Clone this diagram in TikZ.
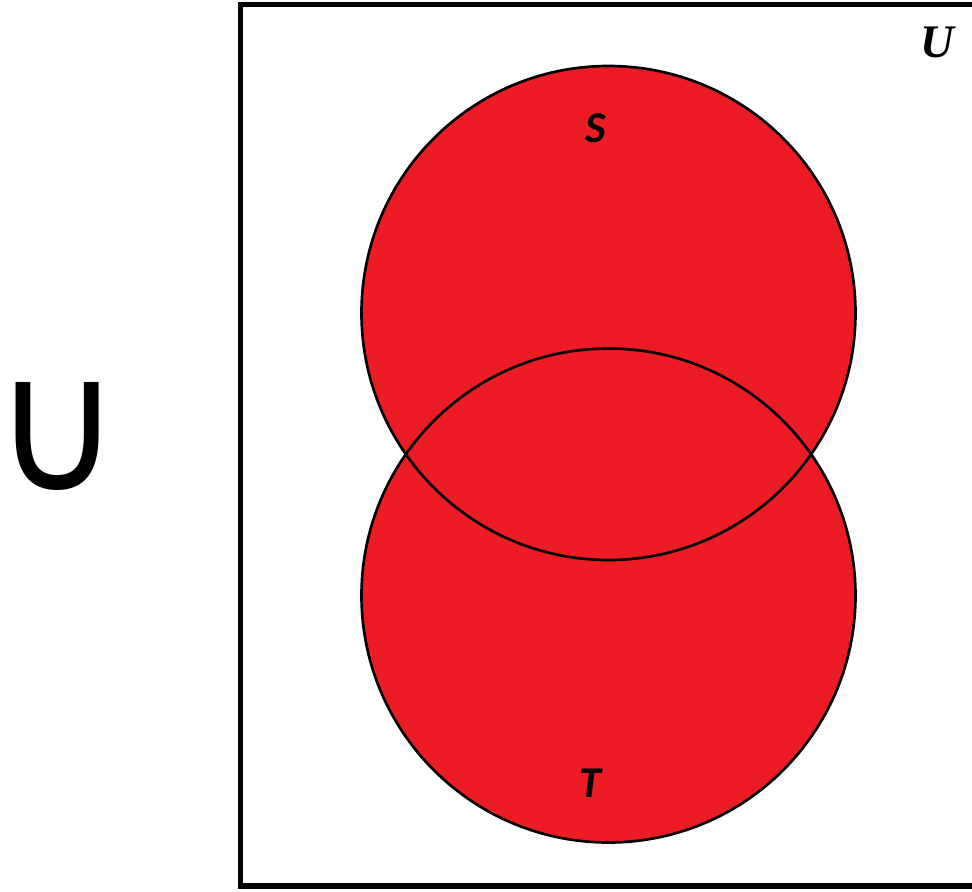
\documentclass[tikz,border=0pt]{standalone}
\usepackage{fontspec}
\usepackage{tikz}
\usetikzlibrary{positioning}
\newfontfamily\labelfont{Carlito}
\newfontfamily\symfont{DejaVu Sans}
\setmainfont{Liberation Serif}
\definecolor{setred}{RGB}{237,28,36}

\begin{document}
\begin{tikzpicture}[x=0.75pt,y=-0.75pt,
  setfill/.style={circle,fill=setred,minimum size=370.5pt,inner sep=0pt},
  setline/.style={draw=black,line width=2pt},
  setlabel/.style={font=\labelfont\bfseries\itshape\fontsize{33}{33}\selectfont,inner sep=0pt},
  frame/.style={line width=3.8pt}
]
\useasboundingbox (0,0) rectangle (972,892);
% Sets
\node[setfill] (S) at (608.5,313) {};
\node[setfill] (T) at (608.5,595.5) {};
\draw[setline] (S.center) circle[radius=185.25pt];
\draw[setline] (T.center) circle[radius=185.25pt];
\node[setlabel] (slab) at (596,128) {S};
\node[setlabel] (tlab) at (590,783) {T};

% Universe
\draw[frame] (980,4.5) -- (240.5,4.5) -- (240.5,886) -- (980,886);
\node[font=\bfseries\itshape\fontsize{35}{35}\selectfont,inner sep=0pt] (ulab) at (937,42) {U};

% Union sign
\node[inner sep=0pt] (cup) at (58,436) {\resizebox{96pt}{81pt}{\symfont ∪}};
\end{tikzpicture}
\end{document}
